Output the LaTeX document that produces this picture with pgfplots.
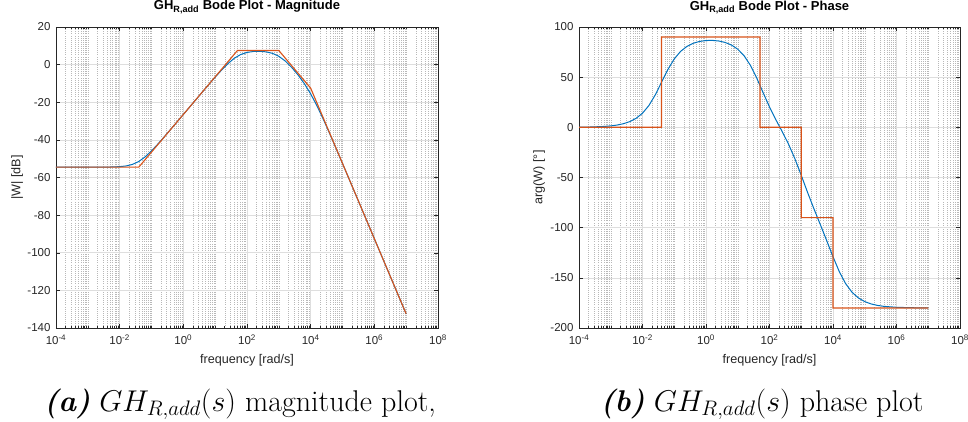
\RequirePackage{fix-cm}
\documentclass[border=0pt]{standalone}
\usepackage{fontspec}
\usepackage{pgfplots}
\usepackage{pgfplotstable}
\pgfplotsset{compat=1.18}
\newfontfamily\msans{Liberation Sans}
\definecolor{mblue}{rgb}{0,0.447,0.741}
\definecolor{morange}{rgb}{0.85,0.325,0.098}
\definecolor{axgray}{rgb}{0.15,0.15,0.15}

% frequency [rad/s], magnitude [dB], phase [deg]
\pgfplotstableread{
x mag phase
1e-4 -54.50 0.14
2.512e-4 -54.50 0.36
6.310e-4 -54.50 0.91
1e-3 -54.50 1.44
1.585e-3 -54.49 2.28
2.512e-3 -54.48 3.61
3.981e-3 -54.46 5.71
6.310e-3 -54.39 9.01
1e-2 -54.23 14.09
1.585e-2 -53.86 21.68
2.512e-2 -53.05 32.22
3.981e-2 -51.49 44.95
6.310e-2 -49.05 57.68
0.1 -45.86 68.19
0.1585 -42.23 75.72
0.2512 -38.39 80.70
0.3981 -34.46 83.81
0.6310 -30.48 85.63
1 -26.50 86.51
1.585 -22.50 86.65
2.512 -18.51 86.06
3.981 -14.53 84.64
6.310 -10.57 82.07
10 -6.67 77.86
15.85 -2.92 71.31
25.12 0.52 61.71
39.81 3.37 48.97
63.10 5.36 34.45
100 6.48 20.32
158.5 6.98 7.62
251.2 7.06 -4.27
398.1 6.79 -16.81
631.0 6.00 -31.32
1000 4.44 -47.84
1585 1.93 -64.95
2512 -1.41 -81.26
3981 -5.41 -96.88
6310 -10.06 -112.79
1e4 -15.55 -129.00
1.585e4 -21.97 -143.96
2.512e4 -29.15 -155.91
3.981e4 -36.77 -164.39
6.310e4 -44.61 -170.04
1e5 -52.54 -173.69
1.585e5 -60.52 -176.01
2.512e5 -68.51 -177.48
3.981e5 -76.50 -178.41
1e6 -92.50 -179.37
3.162e6 -112.50 -179.80
1e7 -132.50 -179.94
}\exact

\pgfplotsset{bodestyle/.style={
  scale only axis, xmin=1e-4, xmax=1e8,
  xtick={1e-4,1e-2,1,1e2,1e4,1e6,1e8},
  xticklabels={10\textsuperscript{-4},10\textsuperscript{-2},10\textsuperscript{0},10\textsuperscript{2},10\textsuperscript{4},10\textsuperscript{6},10\textsuperscript{8}},
  minor xtick={2e-4,3e-4,4e-4,5e-4,6e-4,7e-4,8e-4,9e-4,1e-3,2e-3,3e-3,4e-3,5e-3,6e-3,7e-3,8e-3,9e-3,2e-2,3e-2,4e-2,5e-2,6e-2,7e-2,8e-2,9e-2,0.1,0.2,0.3,0.4,0.5,0.6,0.7,0.8,0.9,2,3,4,5,6,7,8,9,10,20,30,40,50,60,70,80,90,200,300,400,500,600,700,800,900,1000,2000,3000,4000,5000,6000,7000,8000,9000,2e4,3e4,4e4,5e4,6e4,7e4,8e4,9e4,1e5,2e5,3e5,4e5,5e5,6e5,7e5,8e5,9e5,2e6,3e6,4e6,5e6,6e6,7e6,8e6,9e6,1e7,2e7,3e7,4e7,5e7,6e7,7e7,8e7,9e7},
  grid=both,
  major grid style={color=black!13, line width=0.6pt},
  minor grid style={color=black!28, dash pattern=on 0.5pt off 1.6pt, line width=0.4pt},
  tick align=inside, major tick length=4pt, minor tick length=2.2pt,
  axis line style={axgray, line width=0.55pt},
  tick style={axgray, line width=0.5pt},
  tick label style={font=\msans\fontsize{11.5}{13}\selectfont, text=axgray},
  xticklabel style={yshift=-3.5pt},
  yticklabel style={xshift=-2pt},
  label style={font=\msans\fontsize{12.6}{14}\selectfont, text=axgray},
  title style={font=\msans\bfseries\fontsize{13}{15}\selectfont, at={(axis description cs:0.5,1)}, anchor=base, yshift=11pt},
  xlabel={frequency [rad/s]},
  xlabel style={at={(axis description cs:0.5,0)}, anchor=center, yshift=-32pt},
}}

\begin{document}
\begin{tikzpicture}
\useasboundingbox (0,0) rectangle (968pt,421pt);
\begin{semilogxaxis}[bodestyle, at={(56pt,93pt)}, anchor=south west, width=382pt, height=301pt,
  /pgf/number format/assume math mode=true,
  ymin=-140, ymax=20, ytick={-140,-120,-100,-80,-60,-40,-20,0,20},
  title={GH\textsubscript{R,add} Bode Plot - Magnitude},
  ylabel={|W| [dB]},
  ylabel style={at={(axis description cs:-0.102,0.5)}, anchor=center}]
\addplot[color=mblue, line width=1pt] table[x=x, y=mag] {\exact};
\addplot[color=morange, line width=1.1pt] coordinates {
  (1e-4,-54.5) (3.981e-2,-54.5) (50.12,7.5) (1000,7.5) (1e4,-12.5) (1e7,-132.5)};
\end{semilogxaxis}
\begin{semilogxaxis}[bodestyle, at={(579pt,93pt)}, anchor=south west, width=381pt, height=301pt,
  /pgf/number format/assume math mode=true,
  ymin=-200, ymax=100, ytick={-200,-150,-100,-50,0,50,100},
  title={GH\textsubscript{R,add} Bode Plot - Phase},
  ylabel={arg(W) [°]},
  ylabel style={at={(axis description cs:-0.105,0.5)}, anchor=center}]
\addplot[color=mblue, line width=1pt] table[x=x, y=phase] {\exact};
\addplot[color=morange, line width=1.2pt] coordinates {
  (1e-4,0) (3.981e-2,0) (3.982e-2,90) (50.12,90) (50.13,0) (1000,0) (1000.1,-90)
  (1e4,-90) (1.0001e4,-180) (1e7,-180)};
\end{semilogxaxis}
\node[anchor=base] at (240pt,10pt) {\fontsize{30}{34}\selectfont\textbf{\textit{(a)}} $GH_{R,add}(s)$ magnitude plot,};
\node[anchor=base] at (762pt,10pt) {\fontsize{30}{34}\selectfont\textbf{\textit{(b)}} $GH_{R,add}(s)$ phase plot};
\end{tikzpicture}
\end{document}
